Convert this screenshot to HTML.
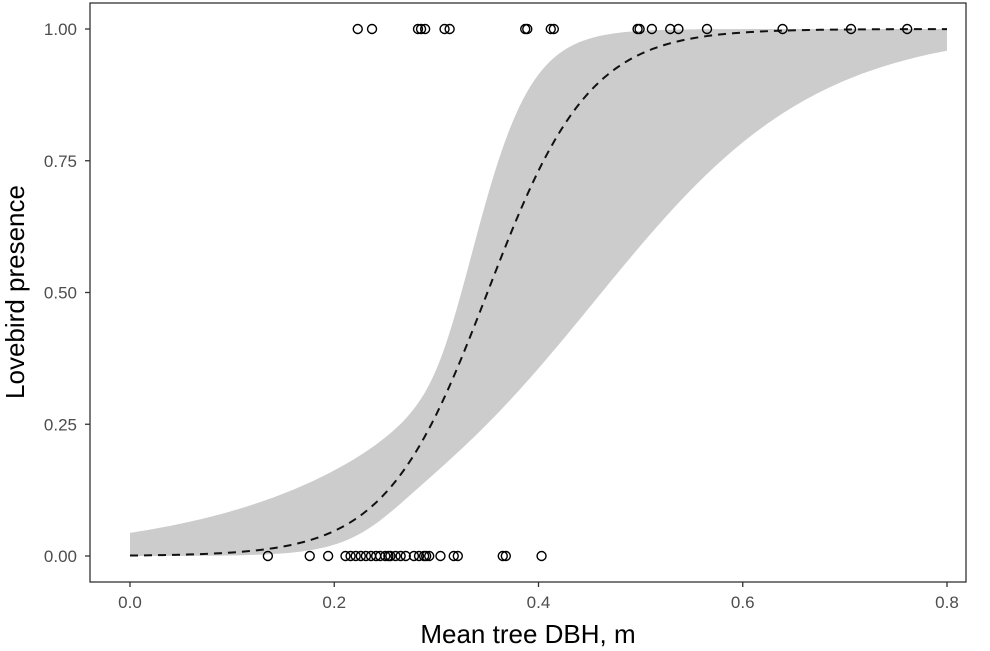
<!DOCTYPE html>
<html><head><meta charset="utf-8"><style>
body{margin:0;background:#fff;}
svg{display:block;font-family:"Liberation Sans",Arial,sans-serif;}
</style></head><body>
<svg id="chart" width="990" height="651"></svg>
<script>
const xTicks=[0,0.2,0.4,0.6,0.8];
const xTickLabels=["0.0","0.2","0.4","0.6","0.8"];
const yTicks=[0,0.25,0.5,0.75,1];
const yTickLabels=["0.00","0.25","0.50","0.75","1.00"];
const presentX=[0.223,0.237,0.282,0.285,0.289,0.308,0.313,0.387,0.389,0.412,0.415,0.497,0.499,0.511,0.529,0.537,0.565,0.639,0.706,0.761];
const absentX=[0.135,0.176,0.194,0.211,0.216,0.221,0.226,0.231,0.236,0.241,0.245,0.250,0.253,0.255,0.260,0.265,0.270,0.278,0.283,0.288,0.290,0.293,0.304,0.317,0.321,0.365,0.368,0.403];
const fitCoef=[-7.0,20.0];          // intercept, slope (logit)
const ciUpper=[0.4,13.0,0.30];      // A, B, centre for upper half-width
const ciLower=[0.5,10.8,0.26];      // A, B, centre for lower half-width
const L=90,R=966,T=3,B=582;
const sx=v=>130+v*(947-130)/0.8;
const sy=v=>556+v*(29-556);
const ns="http://www.w3.org/2000/svg";
const svg=document.getElementById('chart');
function mk(t,a,p){const e=document.createElementNS(ns,t);for(const k in a)e.setAttribute(k,a[k]);(p||svg).appendChild(e);return e;}
const inv=z=>1/(1+Math.exp(-z));
const eta=x=>fitCoef[0]+fitCoef[1]*x;
const hw=(c,x)=>Math.sqrt(c[0]**2+(c[1]*(x-c[2]))**2);
let up=[],lo=[],mid=[];
for(let i=0;i<=200;i++){const x=0.8*i/200;
 up.push(sx(x)+','+sy(inv(eta(x)+hw(ciUpper,x))));
 lo.push(sx(x)+','+sy(inv(eta(x)-hw(ciLower,x))));
 mid.push(sx(x)+','+sy(inv(eta(x))));}
const band=mk('polygon',{points:up.concat(lo.reverse()).join(' '),fill:'#cccccc'});


const line=mk('polyline',{points:mid.join(' '),fill:'none',stroke:'#111','stroke-width':2,'stroke-dasharray':'8,6'});


function pts(arr,val,name){arr.forEach(x=>{const c=mk('circle',{cx:sx(x),cy:sy(val),r:4.5,fill:'none',stroke:'#000','stroke-width':1.4});

});}
pts(absentX,0,'absent-point');pts(presentX,1,'present-point');
const fr=mk('rect',{x:L,y:T,width:R-L,height:B-T,fill:'none',stroke:'#333','stroke-width':1.3});


xTicks.forEach((v,i)=>{mk('line',{x1:sx(v),x2:sx(v),y1:B,y2:B+5,stroke:'#333','stroke-width':1.3});
 const t=mk('text',{x:sx(v),y:608,'text-anchor':'middle','font-size':17,fill:'#4d4d4d'});t.textContent=xTickLabels[i];
 
 });
yTicks.forEach((v,i)=>{mk('line',{x1:L-5,x2:L,y1:sy(v),y2:sy(v),stroke:'#333','stroke-width':1.3});
 const t=mk('text',{x:77,y:sy(v)+6,'text-anchor':'end','font-size':17,fill:'#4d4d4d'});t.textContent=yTickLabels[i];
 
 });
const xt=mk('text',{x:528,y:643,'text-anchor':'middle','font-size':26,fill:'#000'});xt.textContent='Mean tree DBH, m';


const yt=mk('text',{x:0,y:0,'text-anchor':'middle','font-size':26,fill:'#000',transform:'translate(24,292) rotate(-90)'});yt.textContent='Lovebird presence';


</script>
</body></html>
